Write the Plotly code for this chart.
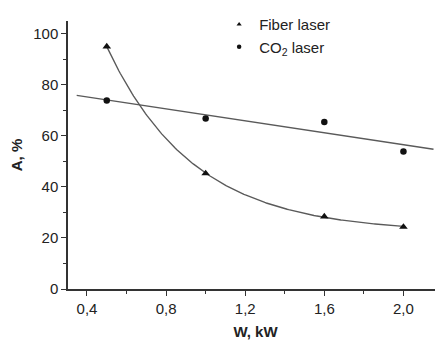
import numpy as np
import plotly.graph_objects as go

# Data
power_kw = [0.5, 1.0, 1.6, 2.0]
fiber_abs = [95.0, 45.3, 28.4, 24.3]
co2_abs = [73.9, 66.8, 65.4, 53.9]
x_ticks = [0.4, 0.8, 1.2, 1.6, 2.0]
x_tick_labels = ["0,4", "0,8", "1,2", "1,6", "2,0"]
y_ticks = [0, 20, 40, 60, 80, 100]

x = np.array(power_kw)
yf = np.array(fiber_abs)
yc = np.array(co2_abs)

# Linear fit for CO2
slope, intercept = np.polyfit(x, yc, 1)
xl = np.array([0.348, 2.152])
yl = slope * xl + intercept

# Exponential decay fit for fiber: y = y0 + A*exp(-x/t)
best = None
for t in np.linspace(0.1, 2.0, 1901):
    M = np.column_stack([np.ones_like(x), np.exp(-x / t)])
    coef, *_ = np.linalg.lstsq(M, yf, rcond=None)
    err = np.sum((M @ coef - yf) ** 2)
    if best is None or err < best[0]:
        best = (err, t, coef)
_, tb, cb = best
xe = np.linspace(x.min(), x.max(), 200)
ye = cb[0] + cb[1] * np.exp(-xe / tb)

line_col = "#5a5a5a"
font_fam = "Liberation Sans, Arial, sans-serif"

fig = go.Figure()
fig.add_trace(go.Scatter(x=xe, y=ye, mode="lines", line=dict(color=line_col, width=1.4),
                         showlegend=False, hoverinfo="skip"))
fig.add_trace(go.Scatter(x=xl, y=yl, mode="lines", line=dict(color=line_col, width=1.4),
                         showlegend=False, hoverinfo="skip"))
fig.add_trace(go.Scatter(x=power_kw, y=fiber_abs, mode="markers", showlegend=False,
                         marker=dict(symbol="triangle-up", size=7.5, color="#111111")))
fig.add_trace(go.Scatter(x=power_kw, y=co2_abs, mode="markers", showlegend=False,
                         marker=dict(symbol="circle", size=6.5, color="#111111")))
# legend entries with small symbols
fig.add_trace(go.Scatter(x=[None], y=[None], mode="markers", name="Fiber laser",
                         marker=dict(symbol="triangle-up", size=4.5, color="#111111")))
fig.add_trace(go.Scatter(x=[None], y=[None], mode="markers", name="CO<sub>2</sub> laser",
                         marker=dict(symbol="circle", size=4.5, color="#111111")))

fig.update_layout(
    width=435, height=332,
    margin=dict(l=60, r=0, t=0, b=51),
    paper_bgcolor="white", plot_bgcolor="white",
    font=dict(family=font_fam, size=15, color="#222222"),
    separators=", ",
    legend=dict(x=0.403, y=1.05, xanchor="left", yanchor="top", bgcolor="rgba(0,0,0,0)",
                font=dict(size=15), itemwidth=30, tracegroupgap=0),
    xaxis=dict(range=[0.304, 2.2], tickvals=x_ticks, ticktext=x_tick_labels, automargin=False,
               showgrid=False, zeroline=False, showline=True, linecolor="#333333", linewidth=1.5,
               ticks="outside", ticklen=5, tickcolor="#333333",
               minor=dict(ticks="outside", ticklen=3, dtick=0.2, tick0=0.4, tickcolor="#333333", showgrid=False),
               title=dict(text="<b>W, kW</b>", font=dict(size=15), standoff=11)),
    yaxis=dict(range=[0, 105], tickvals=y_ticks, showgrid=False, zeroline=False, automargin=False,
               showline=True, linecolor="#333333", linewidth=1.5,
               ticks="outside", ticklen=5, tickcolor="#333333",
               minor=dict(ticks="outside", ticklen=3, dtick=10, tick0=0, tickcolor="#333333", showgrid=False),
               title=dict(text="<b>A, %</b>", font=dict(size=15), standoff=14)),
)

fig.write_html("out.html")
